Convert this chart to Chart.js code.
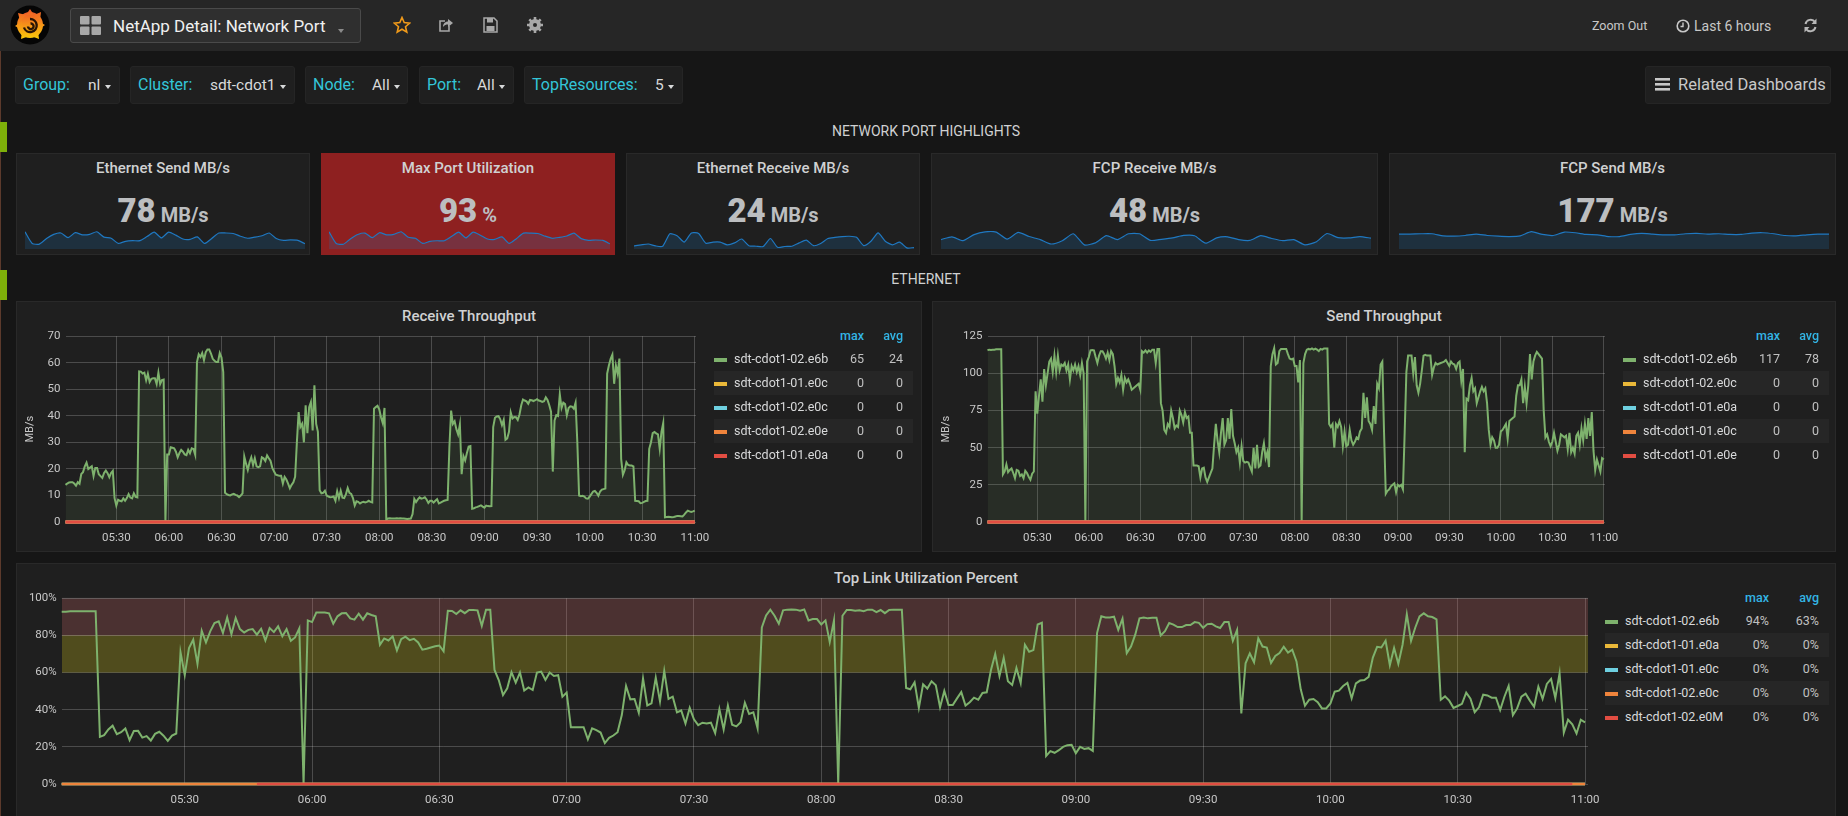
<!DOCTYPE html>
<html>
<head>
<meta charset="utf-8">
<title>NetApp Detail: Network Port</title>
<script src="https://cdn.jsdelivr.net/npm/chart.js@4/dist/chart.umd.min.js"></script>
<style>
html, body { margin: 0; padding: 0; width: 1848px; height: 816px; overflow: hidden; background: #161616; font-family: Roboto, sans-serif; color: #d8d9da; }
.box { position: absolute; box-sizing: border-box; }
.txt { position: absolute; white-space: nowrap; line-height: 20px; height: 20px; }
.panel { background: #1f1f1f; border: 1px solid #292929; }
.filter { background: #1f1f1f; border: 1px solid #252525; border-radius: 3px; }
.lbl { font-size: 16px; color: #33c5d8; }
.val { font-size: 15.5px; color: #d8d9da; }
.caret { position: absolute; width: 0; height: 0; border-left: 3.5px solid transparent; border-right: 3.5px solid transparent; border-top: 4px solid #d8d9da; }
.ptitle { font-size: 15px; font-weight: 500; color: #d0d1d2; text-align: center; }
.sect { font-size: 14px; font-weight: 400; color: #d0d1d2; text-align: center; }
.stat { color: #bcbec0; font-weight: 700; text-align: center; line-height: 40px; height: 40px; }
.stat b { font-size: 33px; }
.stat span { font-size: 20px; margin-left: 5px; }
canvas { position: absolute; display: block; }
.leg { font-size: 12.5px; }
.legh { color: #33b5e5; font-weight: 500; font-size: 12.5px; }
svg { position: absolute; }
</style>
</head>
<body>
<div class="box" style="left:0;top:0;width:1848px;height:51px;background:#262626;"></div>
<div class="box" style="left:0;top:51px;width:1px;height:765px;background:#5c3a2c;"></div>

<svg style="left:10px;top:5px" width="40" height="40" viewBox="0 0 40 40">
	<defs><linearGradient id="g" x1="0" y1="0" x2="0" y2="1"><stop offset="0" stop-color="#f05a28"/><stop offset="1" stop-color="#fbca0a"/></linearGradient></defs>
	<circle cx="20" cy="20" r="19.5" fill="#050505"/>
	<circle cx="20" cy="20" r="13" fill="url(#g)"/>
	<path d="M20 4 L24 10 L16 10 Z M31 7 L30 15 L24 10 Z M8 8 L16 10 L10 16 Z M35 20 L28 25 L28 16 Z M5 21 L12 16 L12 25 Z M11 34 L12 26 L19 31 Z M29 34 L21 31 L28 26 Z" fill="url(#g)"/>
	<path d="M20 14 a6.5 6.5 0 1 1 -6 8.5 M20.5 18.5 a2.8 2.8 0 1 1 -2.5 3" fill="none" stroke="#2a1405" stroke-width="2.4"/>
</svg>

<div class="box" style="left:70px;top:8px;width:291px;height:35px;background:#2f2f2f;border:1px solid #4a4a4a;border-radius:3px;"></div>
<svg style="left:80px;top:16px" width="21" height="19"><rect x="0" y="0" width="9.5" height="8.5" rx="1" fill="#a8a8a8"/><rect x="11.5" y="0" width="9.5" height="8.5" rx="1" fill="#a8a8a8"/><rect x="0" y="10.5" width="9.5" height="8.5" rx="1" fill="#a8a8a8"/><rect x="11.5" y="10.5" width="9.5" height="8.5" rx="1" fill="#a8a8a8"/></svg>
<div class="txt" style="left:113px;top:16px;font-size:17px;color:#f0f0f0;">NetApp Detail: Network Port</div>
<div class="caret" style="left:338px;top:29px;border-top-color:#8a8a8a;"></div>

<svg style="left:393px;top:16px" width="18" height="18" viewBox="0 0 18 18"><path d="M9 1.5 L11.2 6.6 L16.7 7.1 L12.5 10.7 L13.8 16.2 L9 13.3 L4.2 16.2 L5.5 10.7 L1.3 7.1 L6.8 6.6 Z" fill="none" stroke="#f09a1a" stroke-width="1.6"/></svg>
<svg style="left:438px;top:17px" width="16" height="16" viewBox="0 0 16 16"><path d="M11 9 V14 H2 V4 H7" fill="none" stroke="#a8a8a8" stroke-width="1.6"/><path d="M5 10 C5 6 8 4.5 10 4.5 V2 L15 6 L10 10 V7.5 C8 7.5 6.5 8 5 10 Z" fill="#a8a8a8"/></svg>
<svg style="left:483px;top:17px" width="15" height="16" viewBox="0 0 15 16"><path d="M1 1 H11 L14 4 V15 H1 Z" fill="none" stroke="#a8a8a8" stroke-width="1.5"/><rect x="4" y="1" width="6" height="4.5" fill="#a8a8a8"/><rect x="3.5" y="9" width="8" height="5" fill="#a8a8a8"/></svg>
<svg style="left:527px;top:17px" width="16" height="16" viewBox="0 0 16 16"><circle cx="8" cy="8" r="4.5" fill="none" stroke="#a8a8a8" stroke-width="3"/><path d="M8 0 V16 M0 8 H16 M2.3 2.3 L13.7 13.7 M13.7 2.3 L2.3 13.7" stroke="#a8a8a8" stroke-width="2.6"/><circle cx="8" cy="8" r="2" fill="#262626"/></svg>

<div class="txt" style="left:1592px;top:16px;font-size:12.5px;color:#c8c8c8;">Zoom Out</div>
<svg style="left:1676px;top:19px" width="14" height="14" viewBox="0 0 14 14"><circle cx="7" cy="7" r="5.8" fill="none" stroke="#c8c8c8" stroke-width="1.6"/><path d="M7 3.5 V7.5 H4.5" fill="none" stroke="#c8c8c8" stroke-width="1.4"/></svg>
<div class="txt" style="left:1694px;top:16px;font-size:14px;color:#c8c8c8;">Last 6 hours</div>
<svg style="left:1803px;top:18px" width="15" height="15" viewBox="0 0 15 15"><path d="M2.5 6 A5.3 5.3 0 0 1 12 4 M12.5 9 A5.3 5.3 0 0 1 3 11" fill="none" stroke="#b8b8b8" stroke-width="2"/><path d="M13.5 0.5 V6 H8.5 Z M1.5 14.5 V9 H6.5 Z" fill="#b8b8b8"/></svg>

<div class="box filter" style="left:15px;top:66px;width:105px;height:38px;"></div>
<div class="txt lbl" style="left:23px;top:75px;">Group:</div><div class="txt val" style="left:88px;top:75px;">nl</div><div class="caret" style="left:105px;top:85px;"></div>
<div class="box filter" style="left:130px;top:66px;width:165px;height:38px;"></div>
<div class="txt lbl" style="left:138px;top:75px;">Cluster:</div><div class="txt val" style="left:210px;top:75px;">sdt-cdot1</div><div class="caret" style="left:280px;top:85px;"></div>
<div class="box filter" style="left:305px;top:66px;width:103px;height:38px;"></div>
<div class="txt lbl" style="left:313px;top:75px;">Node:</div><div class="txt val" style="left:372px;top:75px;">All</div><div class="caret" style="left:394px;top:85px;"></div>
<div class="box filter" style="left:419px;top:66px;width:95px;height:38px;"></div>
<div class="txt lbl" style="left:427px;top:75px;">Port:</div><div class="txt val" style="left:477px;top:75px;">All</div><div class="caret" style="left:499px;top:85px;"></div>
<div class="box filter" style="left:524px;top:66px;width:159px;height:38px;"></div>
<div class="txt lbl" style="left:532px;top:75px;">TopResources:</div><div class="txt val" style="left:655px;top:75px;">5</div><div class="caret" style="left:668px;top:85px;"></div>
<div class="box filter" style="left:1645px;top:66px;width:186px;height:38px;"></div>
<svg style="left:1655px;top:78px" width="15" height="13"><rect y="0" width="15" height="2.6" fill="#c8c8c8"/><rect y="5" width="15" height="2.6" fill="#c8c8c8"/><rect y="10" width="15" height="2.6" fill="#c8c8c8"/></svg>
<div class="txt val" style="left:1678px;top:75px;color:#c8c8c8;font-size:16.5px;">Related Dashboards</div>

<div class="box" style="left:0;top:122px;width:7px;height:30px;background:#7eb00a;"></div>
<div class="box" style="left:0;top:270px;width:7px;height:30px;background:#7eb00a;"></div>
<div class="txt sect" style="left:16px;top:121px;width:1820px;">NETWORK PORT HIGHLIGHTS</div>
<div class="txt sect" style="left:16px;top:269px;width:1820px;">ETHERNET</div>

<div class="box panel" style="left:16px;top:153px;width:294px;height:102px;"></div>
<div class="box panel" style="left:321px;top:153px;width:294px;height:102px;background:#8e2020;border-color:#8e2020;"></div>
<div class="box panel" style="left:626px;top:153px;width:294px;height:102px;"></div>
<div class="box panel" style="left:931px;top:153px;width:447px;height:102px;"></div>
<div class="box panel" style="left:1389px;top:153px;width:447px;height:102px;"></div>
<div class="txt ptitle" style="left:16px;top:158px;width:294px;">Ethernet Send MB/s</div>
<div class="txt ptitle" style="left:321px;top:158px;width:294px;">Max Port Utilization</div>
<div class="txt ptitle" style="left:626px;top:158px;width:294px;">Ethernet Receive MB/s</div>
<div class="txt ptitle" style="left:931px;top:158px;width:447px;">FCP Receive MB/s</div>
<div class="txt ptitle" style="left:1389px;top:158px;width:447px;">FCP Send MB/s</div>
<div class="txt stat" style="left:16px;top:191px;width:294px;"><b>78</b><span>MB/s</span></div>
<div class="txt stat" style="left:321px;top:191px;width:294px;"><b>93</b><span>%</span></div>
<div class="txt stat" style="left:626px;top:191px;width:294px;"><b>24</b><span>MB/s</span></div>
<div class="txt stat" style="left:931px;top:191px;width:447px;"><b>48</b><span>MB/s</span></div>
<div class="txt stat" style="left:1389px;top:191px;width:447px;"><b>177</b><span>MB/s</span></div>
<canvas id="sparkSend" width="280" height="18" style="left:25px;top:231px"></canvas>
<canvas id="sparkUtil" width="281" height="18" style="left:329px;top:231px"></canvas>
<canvas id="sparkRecv" width="280" height="18" style="left:634px;top:231px"></canvas>
<canvas id="sparkFcpRecv" width="430" height="18" style="left:941px;top:231px"></canvas>
<canvas id="sparkFcpSend" width="430" height="18" style="left:1399px;top:231px"></canvas>

<div class="box panel" style="left:16px;top:301px;width:906px;height:251px;"></div>
<div class="box panel" style="left:932px;top:301px;width:904px;height:251px;"></div>
<div class="box panel" style="left:16px;top:563px;width:1820px;height:270px;"></div>
<div class="txt ptitle" style="left:16px;top:306px;width:906px;">Receive Throughput</div>
<div class="txt ptitle" style="left:932px;top:306px;width:904px;">Send Throughput</div>
<div class="txt ptitle" style="left:16px;top:568px;width:1820px;">Top Link Utilization Percent</div>

<canvas id="chartRecv" width="700" height="226" style="left:16px;top:326px"></canvas>
<canvas id="chartSend" width="693" height="226" style="left:932px;top:326px"></canvas>
<canvas id="chartUtil" width="1584" height="226" style="left:16px;top:588px"></canvas>
<div id="legends"></div>

<script>
var timeTicks = [330, 360, 390, 420, 450, 480, 510, 540, 570, 600, 630, 660];
var timeLabels = ['05:30', '06:00', '06:30', '07:00', '07:30', '08:00', '08:30', '09:00', '09:30', '10:00', '10:30', '11:00'];
var firstMinute = 301;
var lastMinute = 660.7;

var recvE6b = [
	14,14.5,14.9,15,15,14.5,13.7,15,14.4,18.1,18.8,21,22.4,20,20.5,21,17.3,20.4,20.4,18,
	17.3,16.6,18.5,19.4,18.4,16.9,18.5,19.3,9,6.2,8.4,8,7.8,8.9,8,9,10.5,9.2,8.9,10.8,
	9.5,9.3,56.8,56.7,56,56.3,53.4,55.9,52.8,54,54.2,54.2,52,56.3,52,53.5,53.7,0,25.4,25.4,
	28.2,28,27.8,26.5,24.4,26,27.2,26.5,25.5,25.2,27.2,25.9,27.8,27.5,25.3,60.3,63.2,62.2,63.7,61,
	64,65,65,63.5,61.5,60.8,60.3,60.3,63.7,62,56.5,11,10.5,10.2,10,10.4,10.6,10.2,10,9.4,
	10,10.8,24.7,22,19.6,22.5,24.4,21.5,24,21,20.7,21,24.4,24,23,25.1,24,23,20.4,19,
	17.8,17.6,17.4,17.4,14.5,17,16,14.5,12.7,14,15,17,30,41.4,35.8,37,30,44,33.5,43.3,
	45.2,34.5,51.5,37,34,12,10.8,11,11.8,10,9.6,9.3,9.4,9.6,8,11.6,9,11.8,9.2,9,
	10.5,12.8,11,10.6,9,6.2,7.8,7.6,7,7.4,7.6,7.4,7.6,8,7.6,7.4,42.7,43.3,43.8,42.5,
	39.5,37.3,43,1,1.3,1.4,1.3,1.3,1.3,1.4,1.3,1.4,1.3,1.3,1.2,1.1,1.2,1.3,3,8.7,
	7.5,8.5,9.3,8.8,9,9.3,8.5,7.2,8,8,7.3,8,8.6,7,7.3,7.7,8,8.2,8.3,28,
	42,37,38,35,33,36.8,18,24.9,23.2,26,28.4,28.6,5,5.2,5.5,5.7,6,6.3,5.8,5.4,
	6.2,6,5.9,6,35.8,39.3,39.8,39.9,38.8,36.5,38.5,31,31.5,34,41.3,39,39.6,39.5,38.5,40.5,
	44,46.2,45.8,45.5,44.6,46,45.9,45.6,45.9,46.3,45.8,45.6,45.3,45.5,47,46,44,41.6,19,38.3,
	40.3,40,48.1,43,45,44.5,40.2,43,43.6,43.5,42.7,45,30,10,9.7,9.9,9.6,8.9,8.8,9.5,
	10.5,11.5,11.7,11,9.9,11.5,12.2,12.4,12.6,55.9,59,61.5,63.1,52.1,59,56,61.6,23.8,17.8,19.5,
	22.5,21.5,21.3,21.3,21,8,7.9,7.8,7.1,7.2,7.6,7.9,8,27.6,30,33.5,33.9,33.4,33,27.6,
	34,37.3,1.8,1.9,2,1.9,1.8,1.9,2.1,2.3,2.3,2.2,2.1,2.8,3.6,4.3,4,3.8,4,4.3
];
var sendE6b = [
	115.6,116,115.8,116,116,116.3,116.3,116.3,116.3,32,34,38.7,33.5,35,36,33,29.5,35,34.5,31,
	32,29.5,34.5,33,30.5,28.5,32.5,34,88,73,85,96,81,103,92,100,108,110,101,112,
	101,112,102,106,105,107,102,106,96,105,102,106,101,105,99,107,100,0,108,111,
	115.5,115.7,115.5,111,107,112,115,115,113,110,114,109,115,113,105,93,97,94,99,89,
	97,94,96,93,89,90,91,92,93,89,115,114,115.5,114,115.5,114.5,116,116,107,116.5,
	116.5,80,75,62,60,66,64,75,70,63,65,64,75,72,67,74,70,71,60,60,
	38,38,38,37.5,30,36,36.5,30,27,30,33,36,52,66,55,47,60,70,52,55,
	70,56,76,58,53,47,50,40,51,41,40,40.5,40,37,34,50,36,52,37,38,
	47,53,43,47,37,105,113,117,106,107,115,116.5,116.5,116.5,116.5,113,110,109.5,110,105,
	105,94,109,0,107,113,116,116.5,116.2,116.8,116,116.7,116,115,116.5,116,116.8,116.8,116.8,66,
	64,66,50,66,64,68,64,51,61,51,52,62,55,52,54,57,56,61,63,87,
	70,84,68,66,62,78,66,93,90,106,108,60,19,21,22,24,25,26,20,25,
	24,25,22,60,101,112,112,112,100,111,92,87,93,102,112,112.5,112,112,112,99,
	104,107,106,106.5,107,107.5,108,109,107,105,108,106.5,106,103,107,108,95,103,47,83,
	82,92,97,88,90,80,84,88,91,88,90,80,62,52,57,55,50,50,52,61,
	62,64,66,56,68,69,70,71,85,92,92,96,80,91,80,92,113,96,108,112,
	114.5,113,111.5,110,75,57,59,54,51,54,60,54,48,52,59,58,57,58,49,60,
	47,50,46,58,60,52,63,55,66,56,70,58,74,48,35,42,38,34,43,42
];
var utilE6b = [
	92.8,92.8,93,93,93,93,93,93,93,25.4,26.3,29.4,31.4,26.8,27.9,29.9,23.6,28.5,28.6,25,
	25.8,23.4,27,28.1,26,23.2,26.1,27.2,71,58.7,73.2,77.7,64.7,82.5,76.2,82.2,86.7,87.6,81.3,89.7,
	80.7,89.4,83.4,81.6,83,83.4,80.4,83.6,77.3,84,81.8,84.9,79.5,83.4,77.1,78.9,83.8,0,88.1,87.2,
	92.3,92.3,92.3,91.9,86.3,90.3,91.9,92.1,89.2,88.5,91.7,88.5,91.9,91,90.3,75,78.4,77.3,79.5,71.9,
	78,79.3,77.5,78.2,76.2,72.3,72.8,73.5,74.2,74.6,71.5,93.3,93.2,91.5,93.5,92,93.7,93.7,93.5,85.2,
	93.9,93.9,61.4,56,47.9,51.5,60.2,54.6,60,50.3,52,50.6,60,60.5,56,60,58.2,58.6,47,49.2,
	30.5,30.5,30.6,30.6,24,30,29,27.7,22,24.9,26.1,27.9,37.1,52.8,45.6,45.8,38.4,56.8,42.3,43.4,
	57.3,44.5,60.9,45.8,47,38.6,39.6,32.6,41,34.8,31.7,33,32.6,33,27.4,40.2,29.4,42.2,31.9,31,
	33.3,43.8,37.7,38.6,30,84.3,90.8,93.9,90.6,86.3,93.5,93.9,94,93.9,93.3,94,88.1,88.8,88.8,85.9,
	88.1,76.4,88.1,0,90.6,93.7,93.7,93.3,93.5,93,93.9,93.9,92.6,93.7,92,93.7,93.9,93.9,93.9,51.7,
	51,54.8,41,53.7,51.4,55.3,53.2,41.3,50.1,42.5,42.5,46.1,49.5,42.2,44,46.5,45.4,49,49.4,61.4,
	70,58.2,67.9,55.3,53.3,62.5,54.4,75,71.2,72.1,85.9,86.8,15.1,17.7,16.8,18.2,20,20.9,21.1,16.6,
	20,18.9,19.3,17.8,81.3,90.3,89.7,89.7,90.1,83,89,70.5,74,80.4,89.2,89.7,89.2,89.5,89.5,80,
	82.3,86.7,85.8,84.5,84.5,85.6,85.6,87.2,86.8,84.1,86.1,86.3,84.9,84,87.2,87.2,77.1,83,38,65,
	70.3,65.6,78.4,74,73.5,65.2,69,70.5,73.9,70.8,72.3,66,51,42.2,45.4,45.8,44.1,40.7,40.7,43.4,
	49.7,50.3,52.8,54.4,46.1,54.2,55.7,56,57.7,68.1,73.9,73.5,77.1,64,73.2,64.7,75,91.4,77.1,84.3,
	90.3,91.9,90.3,89.9,88.6,45.4,47.2,44.9,41,42,43.2,49.2,46,38.7,41.3,48.1,47.7,46.5,46.5,39.8,
	47,52.8,37.1,40.7,47,48.6,44.9,41.6,52.4,45.8,53.9,56.6,46.3,59.6,27.7,34.6,32.1,27.2,34.6,33.2
];

// the idle ports sit on zero for the whole range
var idleMinutes = [301, 660];
var idleValues = [0, 0];
var redUtilMinutes = [347, 657];

var sparkSendValues = [112,36,32,68,95,104,74,106,92,95,112,77,70,36,50,54,54,81,110,72,110,90,65,63,79,36,68,104,104,101,83,70,77,86,104,68,56,59,56,34];
var sparkUtilValues = [90,29,25,54,76,83,59,85,74,76,90,61,56,29,40,43,43,65,88,58,88,72,52,50,63,29,54,83,83,81,67,56,61,68,83,54,45,47,45,27];
var sparkRecvValues = [11,15,18,11,10,55,48,25,58,56,21,25,25,15,22,36,12,10,9,38,6,9,10,22,32,12,20,38,42,45,46,42,12,28,58,28,15,25,4,5];
var sparkFcpRecvValues = [34,44,30,52,62,61,36,60,45,34,18,30,55,15,22,48,34,55,55,31,35,40,49,48,21,40,44,34,31,48,38,30,34,15,25,56,41,40,45,39];
var sparkFcpSendValues = [172,172,176,176,152,148,156,172,156,148,144,152,200,168,156,196,188,168,164,144,144,168,180,172,164,164,176,180,172,176,168,168,184,188,176,156,152,164,172,172];

var recvNames = ['sdt-cdot1-02.e6b', 'sdt-cdot1-01.e0c', 'sdt-cdot1-02.e0c', 'sdt-cdot1-02.e0e', 'sdt-cdot1-01.e0a'];
var recvMax = ['65', '0', '0', '0', '0'];
var recvAvg = ['24', '0', '0', '0', '0'];
var sendNames = ['sdt-cdot1-02.e6b', 'sdt-cdot1-02.e0c', 'sdt-cdot1-01.e0a', 'sdt-cdot1-01.e0c', 'sdt-cdot1-01.e0e'];
var sendMax = ['117', '0', '0', '0', '0'];
var sendAvg = ['78', '0', '0', '0', '0'];
var utilNames = ['sdt-cdot1-02.e6b', 'sdt-cdot1-01.e0a', 'sdt-cdot1-01.e0c', 'sdt-cdot1-02.e0c', 'sdt-cdot1-02.e0M'];
var utilMax = ['94%', '0%', '0%', '0%', '0%'];
var utilAvg = ['63%', '0%', '0%', '0%', '0%'];
var seriesColors = ['#7eb26d', '#eab839', '#6ed0e0', '#ef843c', '#e24d42'];

var bandRed = [80, 100];
var bandYellow = [60, 80];

function pairs(minutes, values) {
	return values.map(function (v, i) {
		return { x: minutes[i], y: v };
	});
}

function perMinute(values) {
	return values.map(function (v, i) {
		return { x: firstMinute + i, y: v };
	});
}

function lineSet(data, color, order, fillIt, width) {
	return {
		data: data,
		borderColor: color,
		borderWidth: width,
		pointRadius: 0,
		tension: 0,
		order: order,
		clip: 4,
		fill: fillIt ? 'origin' : false,
		backgroundColor: 'rgba(126,178,109,0.1)'
	};
}

function graph(id, datasets, opts) {
	return new Chart(document.getElementById(id), {
		type: 'line',
		data: { datasets: datasets },
		options: {
			responsive: false,
			animation: false,
			layout: { padding: { top: opts.top, right: opts.right, left: 0, bottom: 0 } },
			plugins: { legend: { display: false }, tooltip: { enabled: false } },
			scales: {
				x: {
					type: 'linear',
					min: firstMinute,
					max: lastMinute,
					afterBuildTicks: function (s) {
						s.ticks = timeTicks.map(function (v) { return { value: v }; });
					},
					afterFit: function (s) {
						s.height = 30;
						s.paddingLeft = 0;
						s.paddingRight = 0;
					},
					grid: { color: 'rgba(255,255,255,0.2)', drawTicks: false },
					border: { display: false },
					ticks: {
						color: '#c8c8c8',
						font: { family: 'Roboto', size: 11.5 },
						padding: 9,
						autoSkip: false,
						maxRotation: 0,
						callback: function (v, i) { return timeLabels[i]; }
					}
				},
				y: {
					min: 0,
					max: opts.yMax,
					afterFit: function (s) {
						s.width = opts.axisWidth;
						s.paddingTop = 0;
						s.paddingBottom = 0;
					},
					grid: { color: 'rgba(255,255,255,0.2)', drawTicks: false },
					border: { display: false },
					title: {
						display: !!opts.yTitle,
						text: opts.yTitle,
						color: '#c8c8c8',
						font: { family: 'Roboto', size: 11 },
						padding: { top: 8, bottom: 0 }
					},
					ticks: {
						color: '#c8c8c8',
						font: { family: 'Roboto', size: 11.5 },
						padding: 5,
						stepSize: opts.yStep,
						callback: function (v) { return v + (opts.ySuffix || ''); }
					}
				}
			}
		}
	});
}

function spark(id, values, top) {
	new Chart(document.getElementById(id), {
		type: 'line',
		data: {
			labels: values.map(function (v, i) { return i; }),
			datasets: [{
				data: values,
				borderColor: '#1f78c1',
				borderWidth: 1.2,
				pointRadius: 0,
				tension: 0.2,
				fill: 'origin',
				backgroundColor: 'rgba(31,118,189,0.2)'
			}]
		},
		options: {
			responsive: false,
			animation: false,
			plugins: { legend: { display: false }, tooltip: { enabled: false } },
			scales: {
				x: { display: false },
				y: { display: false, min: 0, max: top }
			}
		}
	});
}

function legend(names, maxes, avgs, pos) {
	var html = '';
	html += '<div class="txt legh" style="left:' + (pos.maxRight - 40) + 'px;top:' + (pos.top - 10) + 'px;width:40px;text-align:right;">max</div>';
	html += '<div class="txt legh" style="left:' + (pos.avgRight - 40) + 'px;top:' + (pos.top - 10) + 'px;width:40px;text-align:right;">avg</div>';
	for (var i = 0; i < names.length; i++) {
		var mid = pos.first + i * 24;
		if (i % 2 == 1) {
			html += '<div class="box" style="left:' + pos.left + 'px;top:' + (mid - 12) + 'px;width:' + pos.width + 'px;height:24px;background:#262626;"></div>';
		}
		html += '<div class="box" style="left:' + pos.left + 'px;top:' + (mid - 1) + 'px;width:13px;height:4px;background:' + seriesColors[i] + ';"></div>';
		html += '<div class="txt leg" style="left:' + (pos.left + 20) + 'px;top:' + (mid - 10) + 'px;">' + names[i] + '</div>';
		html += '<div class="txt leg" style="left:' + (pos.maxRight - 40) + 'px;top:' + (mid - 10) + 'px;width:40px;text-align:right;color:#c0c0c0;">' + maxes[i] + '</div>';
		html += '<div class="txt leg" style="left:' + (pos.avgRight - 40) + 'px;top:' + (mid - 10) + 'px;width:40px;text-align:right;color:#c0c0c0;">' + avgs[i] + '</div>';
	}
	document.getElementById('legends').insertAdjacentHTML('beforeend', html);
}

var idle = pairs(idleMinutes, idleValues);

graph('chartRecv', [
	lineSet(perMinute(recvE6b), seriesColors[0], 5, true, 2),
	lineSet(idle, seriesColors[1], 4, false, 3),
	lineSet(idle, seriesColors[2], 3, false, 3),
	lineSet(idle, seriesColors[3], 2, false, 3),
	lineSet(idle, seriesColors[4], 1, false, 3)
], { top: 10.3, right: 20, axisWidth: 49.5, yMax: 70, yStep: 10, yTitle: 'MB/s' });

graph('chartSend', [
	lineSet(perMinute(sendE6b), seriesColors[0], 5, true, 2),
	lineSet(idle, seriesColors[1], 4, false, 3),
	lineSet(idle, seriesColors[2], 3, false, 3),
	lineSet(idle, seriesColors[3], 2, false, 3),
	lineSet(idle, seriesColors[4], 1, false, 3)
], { top: 10.3, right: 20, axisWidth: 55.5, yMax: 125, yStep: 25, yTitle: 'MB/s' });

var redBand = lineSet(pairs([firstMinute, lastMinute], [bandRed[1], bandRed[1]]), 'rgba(255,255,255,0.1)', 9, false, 1);
redBand.fill = { value: bandRed[0] };
redBand.backgroundColor = 'rgba(234,112,112,0.22)';
var yellowBand = lineSet(pairs([firstMinute, lastMinute], [bandYellow[1], bandYellow[1]]), 'rgba(255,255,255,0.1)', 8, false, 1);
yellowBand.fill = { value: bandYellow[0] };
yellowBand.backgroundColor = 'rgba(216,200,27,0.27)';

graph('chartUtil', [
	redBand,
	yellowBand,
	lineSet(perMinute(utilE6b), seriesColors[0], 5, false, 2),
	lineSet(idle, seriesColors[1], 4, false, 2.5),
	lineSet(idle, seriesColors[2], 3, false, 2.5),
	lineSet(idle, seriesColors[3], 2, false, 2.5),
	lineSet(pairs(redUtilMinutes, idleValues), seriesColors[4], 1, false, 2.5)
], { top: 10.3, right: 12, axisWidth: 45.7, yMax: 100, yStep: 20, ySuffix: '%' });

spark('sparkSend', sparkSendValues, 117);
spark('sparkUtil', sparkUtilValues, 94);
spark('sparkRecv', sparkRecvValues, 65);
spark('sparkFcpRecv', sparkFcpRecvValues, 65);
spark('sparkFcpSend', sparkFcpSendValues, 208);

legend(recvNames, recvMax, recvAvg, { top: 336, first: 359, left: 714, width: 199, maxRight: 864, avgRight: 903 });
legend(sendNames, sendMax, sendAvg, { top: 336, first: 359, left: 1623, width: 206, maxRight: 1780, avgRight: 1819 });
legend(utilNames, utilMax, utilAvg, { top: 598, first: 621, left: 1605, width: 224, maxRight: 1769, avgRight: 1819 });
</script>
</body>
</html>
